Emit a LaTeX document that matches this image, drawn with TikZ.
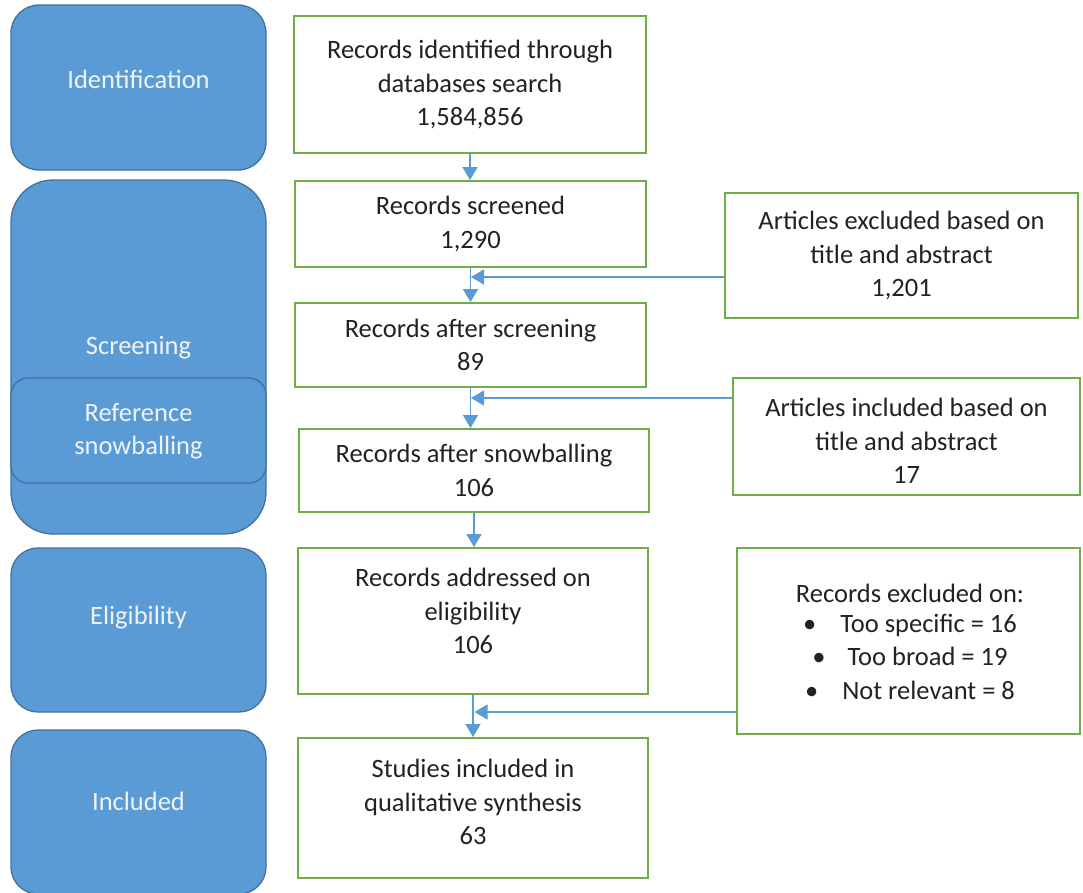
\documentclass[tikz,border=0pt]{standalone}
\usepackage{fontspec}
\setmainfont{Carlito}
\usetikzlibrary{arrows.meta}

\definecolor{stageblue}{HTML}{5B9BD5}
\definecolor{stageedge}{HTML}{41719C}
\definecolor{stagetext}{HTML}{EEF3FA}
\definecolor{boxgreen}{HTML}{70AD47}
\definecolor{flowblue}{HTML}{5B9BD5}
\definecolor{txtdark}{HTML}{222222}

\tikzset{
  stage/.style={draw=stageedge, fill=stageblue, line width=1.3pt,
    minimum width=255pt, inner sep=0pt},
  stagelabel/.style={text=stagetext, align=center, inner sep=0pt},
  gbox/.style={draw=boxgreen, line width=2pt, fill=white, inner sep=0pt},
  txt/.style={text=txtdark, align=center, inner sep=0pt},
  flow/.style={draw=flowblue, line width=1.8pt,
    -{Triangle[length=13pt,width=15pt]}},
  hflow/.style={draw=flowblue, line width=1.5pt,
    -{Triangle[length=13pt,width=15pt]}},
}

\begin{document}
\begin{tikzpicture}[x=1pt, y=-1pt,
  every node/.style={font=\fontsize{26.5}{33.5}\selectfont}]
\useasboundingbox (0,0) rectangle (1083,892);

% ---- stage column ----
\node[stage, minimum height=165pt, rounded corners=28pt] (ident) at (138.5,87.5) {};
\node[stagelabel] (identT) at (138.5,79) {Identification};

\node[stage, minimum height=354pt, rounded corners=42pt] (screen) at (138.5,357) {};
\node[stagelabel] (screenT) at (138.5,348) {Screening};

\node[stage, minimum height=105pt, rounded corners=17pt] (snow) at (138.5,430.5) {};
\node[stagelabel] (snowT) at (138.5,431) {Reference\\snowballing};

\node[stage, minimum height=164pt, rounded corners=27pt] (elig) at (138.5,630) {};
\node[stagelabel] (eligT) at (138.5,618) {Eligibility};

\node[stage, minimum height=164pt, rounded corners=27pt] (incl) at (138.5,812) {};
\node[stagelabel] (inclT) at (138.5,801) {Included};

% ---- main flow ----
\node[gbox, minimum width=352pt, minimum height=137pt] (b1) at (470,84.5) {};
\node[txt] (b1T) at (b1) {Records identified through\\databases search\\1,584,856};

\node[gbox, minimum width=351pt, minimum height=86pt] (b2) at (470.5,224) {};
\node[txt] (b2T) at (b2) {Records screened\\1,290};

\node[gbox, minimum width=351pt, minimum height=84pt] (b3) at (470.5,345) {};
\node[txt] (b3T) at (b3) {Records after screening\\89};

\node[gbox, minimum width=350pt, minimum height=83pt] (b4) at (474,470.5) {};
\node[txt] (b4T) at (b4) {Records after snowballing\\106};

\node[gbox, minimum width=350pt, minimum height=146pt] (b5) at (473,621) {};
\node[txt] (b5T) at (473,611) {Records addressed on\\eligibility\\106};

\node[gbox, minimum width=350pt, minimum height=140pt] (b6) at (473,808) {};
\node[txt] (b6T) at (473,802) {Studies included in\\qualitative synthesis\\63};

% ---- side boxes ----
\node[gbox, minimum width=353pt, minimum height=125pt] (r1) at (901.5,255.5) {};
\node[txt] (r1T) at (r1) {Articles excluded based on\\title and abstract\\1,201};

\node[gbox, minimum width=347pt, minimum height=117pt] (r2) at (906.5,436.5) {};
\node[txt] (r2T) at (906.5,441) {Articles included based on\\title and abstract\\17};

\node[gbox, minimum width=343pt, minimum height=186pt] (r3) at (908.5,641) {};
\node[txt] (r3T) at (910,642) {Records excluded on:\\[-4pt]
  \textbullet\hspace{24pt}Too specific = 16\\
  \textbullet\hspace{22pt}Too broad = 19\\
  \textbullet\hspace{24pt}Not relevant = 8};

% ---- connectors ----
\coordinate (j1) at (471,277);
\coordinate (j2) at (471,398);
\coordinate (j3) at (474.5,712);

\draw[flow] (b1.south) -- (b1.south |- b2.north);
\draw[flow] (b2.south) -- (b2.south |- b3.north);
\draw[flow] (b3.south) -- (b3.south |- b4.north);
\draw[flow] (b4.south) -- (b4.south |- b5.north);
\draw[flow] (b5.south) -- (b5.south |- b6.north);

\draw[hflow] (r1.west |- j1) -- (j1);
\draw[hflow] (r2.west |- j2) -- (j2);
\draw[hflow] (r3.west |- j3) -- (j3);
\end{tikzpicture}
\end{document}
